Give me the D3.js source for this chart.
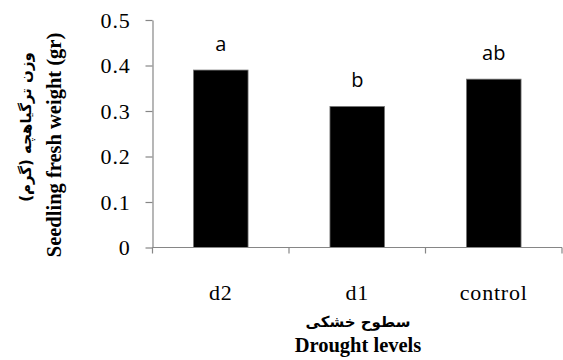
<!DOCTYPE html>
<html><head><meta charset="utf-8">
<script src="https://cdn.jsdelivr.net/npm/d3@7"></script>
<style>body{margin:0;background:#fff}svg{display:block}</style>
</head><body>
<svg id="c" width="563" height="360"></svg>
<script>
const categories = ["d2", "d1", "control"];
const values = [0.39, 0.31, 0.37];
const letters = ["a", "b", "ab"];
const yTicks = [0, 0.1, 0.2, 0.3, 0.4, 0.5];

(function () {
const svg = d3.select("#c");
const mLeft = 152.5, mRight = 562, mTop = 20, mBottom = 247.5;
const x = d3.scaleBand().domain(categories).range([mLeft, mRight]).paddingInner(0.6).paddingOuter(0.3);
const y = d3.scaleLinear().domain([0, 0.5]).range([mBottom, mTop]);
const axisCol = "#868686";
const serifFam = "Liberation Serif, DejaVu Serif, serif";

svg.selectAll("rect.bar").data(categories).enter().append("rect")
  .attr("x", d => x(d)).attr("width", x.bandwidth())
  .attr("y", (d, i) => y(values[i])).attr("height", (d, i) => y(0) - y(values[i]))
  .attr("fill", "#000").attr("stroke", "#777").attr("stroke-width", 0.8);

svg.selectAll("text.lt").data(categories).enter().append("text")
  .attr("x", d => x(d) + x.bandwidth() / 2)
  .attr("y", (d, i) => y(values[i]) - 19)
  .attr("text-anchor", "middle")
  .style("font-family", "Open Sans, Liberation Sans, sans-serif")
  .style("font-size", "20px").text((d, i) => letters[i]);

const ya = svg.append("g").attr("transform", `translate(${mLeft},0)`)
  .call(d3.axisLeft(y).tickValues(yTicks).tickSize(7).tickSizeOuter(0).tickPadding(15)
    .tickFormat(d => d === 0 ? "0" : d3.format(".1f")(d)));
ya.attr("font-family", null).attr("font-size", null);
ya.selectAll("path,line").attr("stroke", axisCol).attr("stroke-width", 1.2);
ya.selectAll("text").style("font-family", serifFam).style("font-size", "22px")
  .style("letter-spacing", "0.8px").attr("fill", "#000");

const step = x.step(), gap = (step - x.bandwidth()) / 2;
const bounds = categories.map(c => x(c) - gap).concat([x(categories[2]) + x.bandwidth() + gap]);
const xa = svg.append("g");
xa.append("line").attr("x1", mLeft).attr("x2", mRight).attr("y1", y(0)).attr("y2", y(0))
  .attr("stroke", axisCol).attr("stroke-width", 1.2);
xa.selectAll("line.t").data(bounds).enter().append("line")
  .attr("x1", d => d).attr("x2", d => d).attr("y1", y(0)).attr("y2", y(0) + 6)
  .attr("stroke", axisCol).attr("stroke-width", 1.2);
xa.selectAll("text").data(categories).enter().append("text")
  .attr("x", d => x(d) + x.bandwidth() / 2).attr("y", 299.5)
  .attr("text-anchor", "middle").style("font-family", serifFam).style("font-size", "22px")
  .style("letter-spacing", "0.8px").text(d => d);

svg.append("text").attr("x", 358).attr("y", 327).attr("text-anchor", "middle")
  .style("font-family", "DejaVu Sans, sans-serif").style("font-weight", "bold").style("font-size", "15px")
  .attr("direction", "rtl").text("سطوح خشکی");
svg.append("text").attr("x", 358).attr("y", 352).attr("text-anchor", "middle")
  .style("font-family", serifFam).style("font-weight", "bold").style("font-size", "20.5px").text("Drought levels");

svg.append("text").attr("transform", "translate(61,145) rotate(-90)").attr("text-anchor", "middle")
  .style("font-family", serifFam).style("font-weight", "bold").style("font-size", "20.5px").text("Seedling fresh weight (gr)");
svg.append("text").attr("transform", "translate(31,127) rotate(-90)").attr("text-anchor", "middle")
  .style("font-family", "DejaVu Sans, sans-serif").style("font-weight", "bold").style("font-size", "15px")
  .attr("direction", "rtl").text("وزن ترگیاهچه (گرم)");
})();
</script>
</body></html>
